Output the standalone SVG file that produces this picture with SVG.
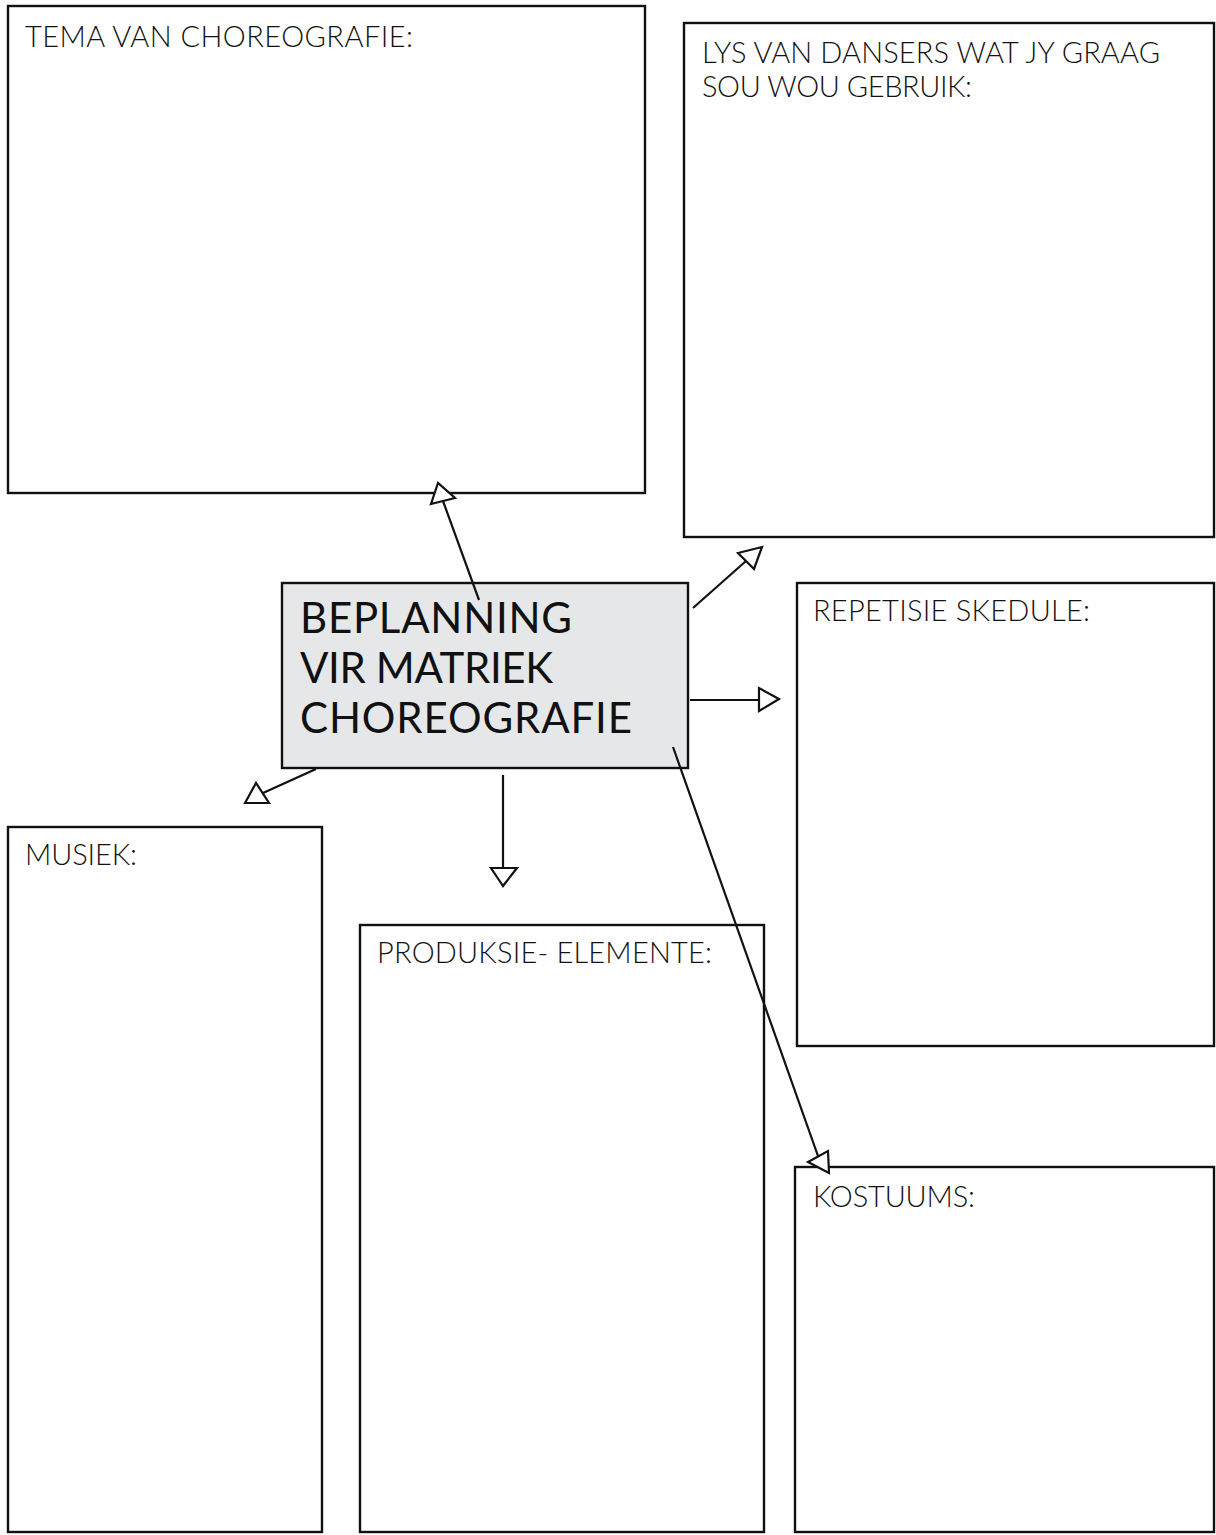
<svg xmlns="http://www.w3.org/2000/svg" width="1216" height="1535" viewBox="0 0 1216 1535">
<style>
.box{fill:#ffffff;stroke:#111111;stroke-width:2.4}
.hub{fill:#e6e7e9;stroke:#111111;stroke-width:2.4}
.lbl{font-family:Lato,"Liberation Sans",sans-serif;font-weight:300;font-size:29px;fill:#111111}
.big{font-family:Lato,"Liberation Sans",sans-serif;font-weight:400;font-size:42px;fill:#111111}
.ln{stroke:#111111;stroke-width:2.2;fill:none}
.hd{fill:#ffffff;stroke:#111111;stroke-width:2.2;stroke-linejoin:miter}
</style>
<rect width="1216" height="1535" fill="#ffffff"/>
<g id="tema">
<rect class="box" x="8" y="6" width="637" height="487"/>
<text class="lbl" x="25" y="47" textLength="388">TEMA VAN CHOREOGRAFIE:</text>
</g>
<g id="lys">
<rect class="box" x="684" y="23" width="530" height="514"/>
<text class="lbl" x="702" y="63" textLength="458">LYS VAN DANSERS WAT JY GRAAG</text>
<text class="lbl" x="702" y="97" textLength="270">SOU WOU GEBRUIK:</text>
</g>
<g id="repetisie">
<rect class="box" x="797" y="583" width="417" height="463"/>
<text class="lbl" x="813" y="621" textLength="277">REPETISIE SKEDULE:</text>
</g>
<g id="kostuums">
<rect class="box" x="795" y="1167" width="419" height="365"/>
<text class="lbl" x="813" y="1207" textLength="162">KOSTUUMS:</text>
</g>
<g id="produksie">
<rect class="box" x="360" y="925" width="404" height="607"/>
<text class="lbl" x="377" y="963" textLength="335">PRODUKSIE- ELEMENTE:</text>
</g>
<g id="musiek">
<rect class="box" x="8" y="827" width="314" height="705"/>
<text class="lbl" x="25" y="865" textLength="112">MUSIEK:</text>
</g>
<g id="beplanning">
<rect class="hub" x="282" y="583" width="406" height="185"/>
<text class="big" x="300" y="633" textLength="272">BEPLANNING</text>
<text class="big" x="300" y="683" textLength="253">VIR MATRIEK</text>
<text class="big" x="300" y="733" textLength="332">CHOREOGRAFIE</text>
</g>
<g id="connectors">
<line class="ln" x1="479" y1="600" x2="443" y2="501"/>
<polygon class="hd" points="438,483 431,504 455,498"/>
<line class="ln" x1="693" y1="608" x2="746" y2="561"/>
<polygon class="hd" points="762,547 738,553 754,569"/>
<line class="ln" x1="690" y1="700" x2="759" y2="700"/>
<polygon class="hd" points="779,699 759,688 759,711"/>
<line class="ln" x1="316" y1="769" x2="263" y2="793"/>
<polygon class="hd" points="245,803 256,783 269,803"/>
<line class="ln" x1="503" y1="775" x2="503" y2="868"/>
<polygon class="hd" points="503,886 491,868 517,868"/>
<line class="ln" x1="673" y1="747" x2="818" y2="1156"/>
<polygon class="hd" points="829,1173 808,1162 828,1151"/>
</g>
</svg>
